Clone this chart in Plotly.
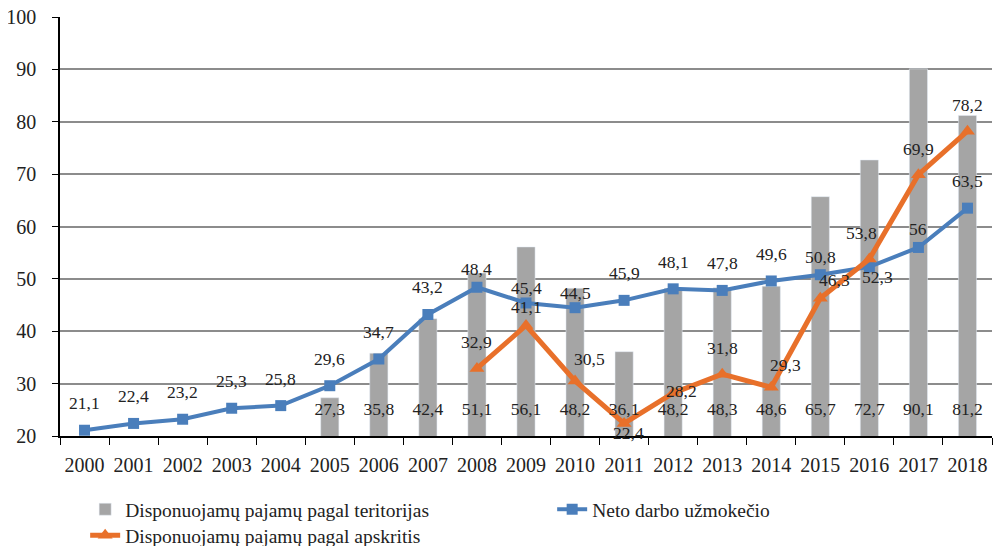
import plotly.graph_objects as go

years = [str(y) for y in range(2000, 2019)]

# bars (from 2005)
teritorijas = [None, None, None, None, None, 27.3, 35.8, 42.4, 51.1, 56.1,
               48.2, 36.1, 48.2, 48.3, 48.6, 65.7, 72.7, 90.1, 81.2]
# blue line
neto = [21.1, 22.4, 23.2, 25.3, 25.8, 29.6, 34.7, 43.2, 48.4, 45.4,
        44.5, 45.9, 48.1, 47.8, 49.6, 50.8, 52.3, 56, 63.5]
# orange line (from 2008)
apskritis = [None, None, None, None, None, None, None, None, 32.9, 41.1,
             30.5, 22.4, 28.2, 31.8, 29.3, 46.3, 53.8, 69.9, 78.2]

BLUE = "#4A7EBB"
ORANGE = "#E8702A"
GREY = "#A5A5A5"
FONT = "Liberation Serif"
TXT = "#222"
CLEAR = "rgba(0,0,0,0)"


def fmt(v):
    s = f"{v:g}"
    return s.replace(".", ",")


fig = go.Figure()

fig.add_trace(go.Bar(
    x=years, y=teritorijas, name="Disponuojamų pajamų pagal teritorijas",
    marker_color=GREY, width=0.37, legend="legend",
))
fig.add_trace(go.Scatter(
    x=years, y=neto, name="Neto darbo užmokečio", mode="lines+markers",
    line=dict(color=BLUE, width=4), marker=dict(symbol="square", size=11, color=BLUE),
    legend="legend",
))
fig.add_trace(go.Scatter(
    x=years, y=apskritis, name="Disponuojamų pajamų pagal apskritis", mode="lines+markers",
    line=dict(color=ORANGE, width=5), marker=dict(symbol="triangle-up", size=13, color=ORANGE),
    legend="legend2", connectgaps=False,
))

# bar labels near the bottom of the bars
fig.add_trace(go.Scatter(
    x=[y for y, v in zip(years, teritorijas) if v is not None],
    y=[24.8] * sum(v is not None for v in teritorijas),
    text=[fmt(v) for v in teritorijas if v is not None],
    mode="text", textfont=dict(family=FONT, size=17.5, color=TXT),
    showlegend=False, hoverinfo="skip",
))

# annotations use category index (numeric-looking strings would be read as positions)
ann = []
for i, (yr, v) in enumerate(zip(years, neto)):
    xs, ys = 0, 27
    if yr == "2016":
        xs, ys = 8, -10
    elif yr in ("2009", "2010"):
        ys = 15
    elif yr in ("2008", "2015", "2017"):
        ys = 18
    ann.append(dict(x=i, y=v, text=fmt(v), xshift=xs, yshift=ys))
for i, (yr, v) in enumerate(zip(years, apskritis)):
    if v is None:
        continue
    xs, ys = 0, 26
    if yr == "2011":
        xs, ys = 4, -10
    elif yr == "2012":
        xs, ys = 8, 2
    elif yr == "2009":
        ys = 18
    elif yr in ("2010", "2014"):
        xs, ys = 14, 22
    elif yr == "2015":
        xs, ys = 14, 18
    elif yr == "2016":
        xs, ys = -8, 26
    ann.append(dict(x=i, y=v, text=fmt(v), xshift=xs, yshift=ys))
for a in ann:
    a.update(showarrow=False, font=dict(family=FONT, size=17.5, color=TXT))

fig.update_layout(
    width=1001, height=546,
    margin=dict(l=52, r=17, t=9, b=118, autoexpand=False),
    plot_bgcolor="white", paper_bgcolor="white",
    font=dict(family=FONT, size=19, color=TXT),
    bargap=0.6,
    annotations=ann,
    legend=dict(orientation="h", x=0.027, y=-0.129, yanchor="top", bgcolor=CLEAR,
                font=dict(family=FONT, size=19.5, color=TXT),
                entrywidth=422, traceorder="normal"),
    legend2=dict(orientation="h", x=0.027, y=-0.191, yanchor="top", bgcolor=CLEAR,
                 font=dict(family=FONT, size=19.5, color=TXT)),
)
fig.update_xaxes(
    type="category", range=[-0.5, 18.5], showgrid=False, showline=True,
    linecolor="black", linewidth=1.5,
    ticks="outside", tickson="boundaries", ticklen=7, tickcolor="black",
    ticklabelstandoff=10,
    tickfont=dict(family=FONT, size=20, color=TXT),
)
fig.update_yaxes(
    range=[20, 100], dtick=10, showgrid=True, gridcolor="#8C8C8C", gridwidth=1.5,
    showline=True, linecolor="black", linewidth=1.5, ticks="outside", ticklen=6,
    tickcolor="black", zeroline=False, ticklabelstandoff=12,
    ticklabeloverflow="allow",
    tickfont=dict(family=FONT, size=20, color=TXT),
)

fig.write_html("out.html")
